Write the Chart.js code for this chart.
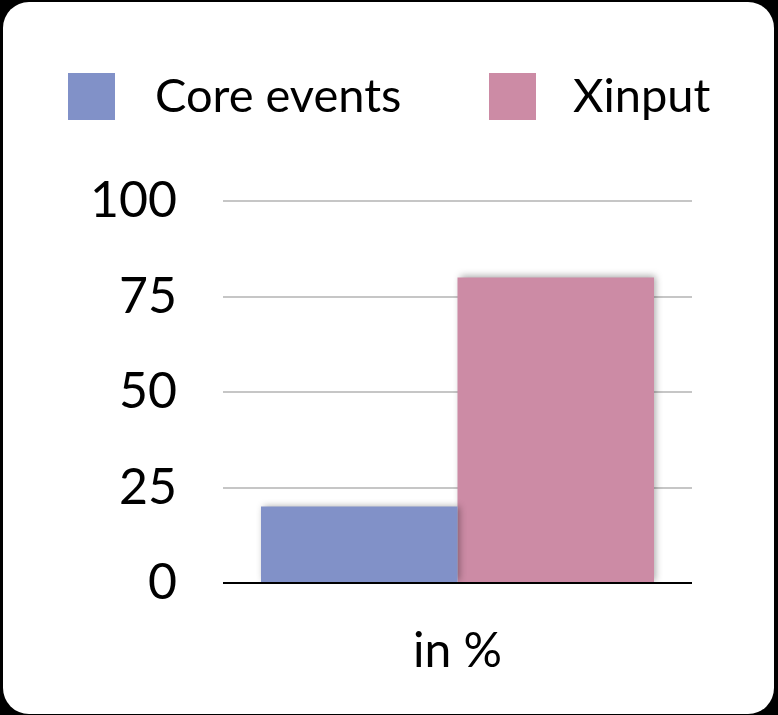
<!DOCTYPE html>
<html>
<head>
<meta charset="utf-8">
<script src="https://cdn.jsdelivr.net/npm/chart.js@4/dist/chart.umd.min.js"></script>
<style>
  html, body { margin: 0; padding: 0; background: #000; width: 778px; height: 715px; overflow: hidden; }
  #card { position: absolute; left: 3px; top: 2px; width: 771px; height: 712px; background: #fff; border-radius: 26px; overflow: hidden; }
  #card canvas { display: block; }
</style>
</head>
<body>
<div id="card"><canvas id="chart" width="771" height="712"></canvas></div>
<script>
// Share of events by delivery mechanism
const categories = ['in %'];
const seriesNames = ['Core events', 'Xinput'];
const coreEvents = [20];
const xinput = [80];
const yTicks = [0, 25, 50, 75, 100];

const seriesColors = ['#8191c8', '#cc8ba5'];
const FONT = 'Lato, "Gill Sans", "Noto Sans", sans-serif';

// Soft drop shadow under the bars
const barShadow = {
  id: 'barShadow',
  beforeDatasetsDraw(chart) {
    const ctx = chart.ctx;
    ctx.save();
    ctx.shadowColor = 'rgba(0,0,0,0.35)';
    ctx.shadowBlur = 7;
    ctx.shadowOffsetX = 2;
    ctx.shadowOffsetY = -1;
  },
  afterDatasetsDraw(chart) {
    chart.ctx.restore();
  }
};

// Legend row across the top of the card
const topLegend = {
  id: 'topLegend',
  afterDraw(chart) {
    const ctx = chart.ctx;
    const items = [
      { box: 65, text: 152 },
      { box: 486, text: 570 }
    ];
    ctx.save();
    ctx.font = '47px ' + FONT;
    ctx.textBaseline = 'middle';
    ctx.textAlign = 'left';
    chart.data.datasets.forEach((ds, i) => {
      const it = items[i];
      ctx.fillStyle = ds.backgroundColor;
      ctx.fillRect(it.box, 71, 47, 47);
      ctx.fillStyle = '#000';
      ctx.fillText(ds.label, it.text, 95);
    });
    ctx.restore();
  }
};

new Chart(document.getElementById('chart'), {
  type: 'bar',
  data: {
    labels: categories,
    datasets: [
      { label: seriesNames[0], data: coreEvents, backgroundColor: seriesColors[0] },
      { label: seriesNames[1], data: xinput, backgroundColor: seriesColors[1] }
    ]
  },
  options: {
    responsive: false,
    animation: false,
    devicePixelRatio: 1,
    layout: { padding: { top: 199, right: 82, bottom: 0, left: 0 } },
    datasets: { bar: { categoryPercentage: 0.838, barPercentage: 1.0 } },
    plugins: {
      legend: { display: false },
      tooltip: { enabled: false }
    },
    scales: {
      x: {
        grid: { display: false },
        border: { display: false },
        ticks: { color: '#000', font: { family: FONT, size: 48 }, padding: 32 },
        afterFit(s) { s.height = 131; }
      },
      y: {
        min: 0,
        max: 100,
        afterBuildTicks(s) { s.ticks = yTicks.map(v => ({ value: v })); },
        grid: {
          drawTicks: false,
          color: c => (c.tick && c.tick.value === 0 ? '#000' : '#c6c6c6'),
          lineWidth: 2
        },
        border: { display: false },
        ticks: { color: '#000', font: { family: FONT, size: 50 }, padding: 46 },
        afterFit(s) { s.width = 220; }
      }
    }
  },
  plugins: [barShadow, topLegend]
});
</script>
</body>
</html>
